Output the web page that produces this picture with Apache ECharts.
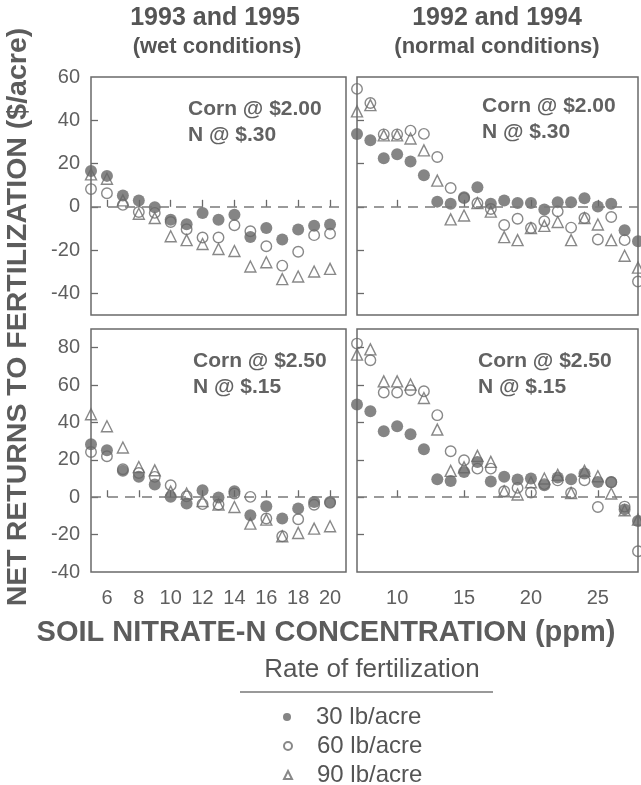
<!DOCTYPE html>
<html><head><meta charset="utf-8">
<script src="https://cdn.jsdelivr.net/npm/echarts@6/dist/echarts.min.js"></script>
<style>html,body{margin:0;padding:0;background:#fff}#c{width:641px;height:785px}</style>
</head><body><div id="c"></div>
<script>
// ---- data ----
const xWet = [5,6,7,8,9,10,11,12,13,14,15,16,17,18,19,20];
const xNormal = [7,8,9,10,11,12,13,14,15,16,17,18,19,20,21,22,23,24,25,26,27,28];

// Corn @ $2.00, N @ $.30 — wet (1993/1995)
const wetA30 = [16.6,14.3,5.2,2.9,-0.2,-6,-8.1,-2.9,-6,-3.7,-13.9,-9.8,-15.1,-10.5,-8.8,-8.2];
const wetA60 = [8.2,6.3,0.9,-2.4,-2.8,-7,-10.4,-14.2,-14.2,-8.5,-11.3,-18.2,-27.2,-20.8,-13.1,-12.4];
const wetA90 = [15,13,3,-3.2,-5.2,-13.6,-15.4,-17.2,-19.5,-20.4,-27.6,-25.6,-33.4,-32.2,-29.9,-28.7];
// Corn @ $2.00, N @ $.30 — normal (1992/1994)
const norA30 = [33.7,30.8,22.4,24.3,20.9,14.6,2.4,1.4,4.4,9,1.4,2.9,1.8,1.8,-1.2,2.1,2.1,4,0.1,1.4,-10.8,-15.9];
const norA60 = [54.5,48,33.5,33.5,35.2,33.7,23,8.7,4,1.7,-1,-8.4,-5.5,-9.8,-6.7,-2.1,-9.6,-5.2,-15.1,-4.7,-15.4,-34.5];
const norA90 = [44.1,47,33,33,31.6,26.1,12.1,-5.8,-4,1.7,-2.2,-14,-15.4,-9.8,-8.8,-7,-15.4,-5.2,-8.2,-15.4,-22.6,-28.1];
// Corn @ $2.50, N @ $.15 — wet
const wetB30 = [28.3,25.1,14.1,10.9,6.8,0.2,-3.4,3.7,-0.2,3.2,-9.6,-4.8,-11.4,-6,-2.5,-2.5];
const wetB60 = [24.2,21.9,15,13,10.9,6.4,0.5,-3.7,-3.9,2,0.2,-11.4,-20.9,-11.8,-4,-3];
const wetB90 = [44.4,38,26.6,16.2,14.4,3,2,-2,-3.9,-5.2,-14.1,-12,-20.9,-19.1,-16.8,-15.5];
// Corn @ $2.50, N @ $.15 — normal
const norB30 = [49.6,46,35.3,38,33.7,25.7,9.6,8.7,13.5,18.9,8.4,10.9,9.5,10,6.4,10.5,9.6,12.7,8.2,8.2,-6.5,-12.7];
const norB60 = [82.2,73.3,56,56,57.2,56.7,43.9,24.6,19.8,15.3,15.3,3.2,5,2.5,7,9,2.3,9.1,-5.2,8,-5,-28.9];
const norB90 = [76.3,79.1,62,62,60.3,53.1,36.2,14.1,16,22.1,18.9,3.2,1.5,8,10,12,2.3,14.1,11.2,2,-7,-12];

const wetTicks = [6,8,10,12,14,16,18,20];
const norTicks = [10,15,20,25];
const topTicks = [-40,-20,0,20,40,60];
const botTicks = [-40,-20,0,20,40,60,80];

const names = ['30 lb/acre','60 lb/acre','90 lb/acre'];
const colTitles = ['1993 and 1995','(wet conditions)','1992 and 1994','(normal conditions)'];
const panelNotes = [['Corn @ $2.00','N @ $.30'],['Corn @ $2.50','N @ $.15']];

// ---- chart ----
const GRAY = '#5f5f5f';
const FONT = '"Liberation Sans", Arial, Helvetica, sans-serif';
const pair = (xs, ys) => xs.map((x,i)=>[x, ys[i]]);

const grids = [
  {left:91, top:77, width:255, height:238},
  {left:357, top:77, width:281, height:238},
  {left:91, top:329, width:255, height:243},
  {left:357, top:329, width:281, height:243}
].map(g => Object.assign({show:true, borderColor:'#6a6a6a', borderWidth:1.5, backgroundColor:'transparent'}, g));

function xAx(gi, wet, showLabels){
  const ticks = wet ? wetTicks : norTicks;
  return {
    type:'value', gridIndex:gi, min: wet?5:7, max: wet?21:28,
    axisLine:{show:false}, splitLine:{show:false},
    axisTick:{show:true, inside:true, length:7, lineStyle:{color:'#6a6a6a', width:1.3}, customValues:ticks},
    axisLabel:{show:showLabels, customValues:ticks, color:GRAY, fontSize:20, fontFamily:FONT, margin:16}
  };
}
function yAx(gi, top, showLabels){
  const labs = top ? topTicks : botTicks;
  const ticks = top ? topTicks.filter(v=>v!==60) : botTicks.filter(v=>v!==-40);
  return {
    type:'value', gridIndex:gi, min: top?-50:-40, max: top?60:90,
    axisLine:{show:false}, splitLine:{show:false},
    axisTick:{show:true, inside:true, length:7, lineStyle:{color:'#6a6a6a', width:1.3}, customValues:ticks},
    axisLabel:{show:showLabels, customValues:labs, color:GRAY, fontSize:20, fontFamily:FONT, margin:11}
  };
}

const styles = [
  {symbol:'circle', symbolSize:12, itemStyle:{color:'#676767'}},
  {symbol:'circle', symbolSize:10.5, itemStyle:{color:'rgba(255,255,255,0)', borderColor:'#6a6a6a', borderWidth:1.4}},
  {symbol:'triangle', symbolSize:11, itemStyle:{color:'rgba(255,255,255,0)', borderColor:'#6a6a6a', borderWidth:1.4}}
];

const panels = [
  {xs:xWet, s:[wetA30,wetA60,wetA90]},
  {xs:xNormal, s:[norA30,norA60,norA90]},
  {xs:xWet, s:[wetB30,wetB60,wetB90]},
  {xs:xNormal, s:[norB30,norB60,norB90]}
];

const series = [];
panels.forEach((p, gi) => {
  [2,1,0].forEach(k => {
    const s = Object.assign({
      type:'scatter', name:names[k], xAxisIndex:gi, yAxisIndex:gi,
      data: pair(p.xs, p.s[k]), silent:true, emphasis:{disabled:true}
    }, styles[k]);
    if (k === 2) {
      s.markLine = {silent:true, symbol:['none','none'], label:{show:false},
        lineStyle:{type:[10,7], color:'#7a7a7a', width:1.5}, data:[{yAxis:0}]};
    }
    series.push(s);
  });
});

const noteGfx = [
  {x:188, y:109, t:panelNotes[0][0]}, {x:188, y:135, t:panelNotes[0][1]},
  {x:482, y:106, t:panelNotes[0][0]}, {x:482, y:132, t:panelNotes[0][1]},
  {x:193, y:361, t:panelNotes[1][0]}, {x:193, y:387, t:panelNotes[1][1]},
  {x:478, y:361, t:panelNotes[1][0]}, {x:478, y:387, t:panelNotes[1][1]}
].map(n => ({type:'text', x:n.x, y:n.y, silent:true,
  style:{text:n.t, fill:'#626262', font:'bold 21px ' + FONT, verticalAlign:'middle'}}));

const textGfx = [
  {type:'text', x:215, y:18, style:{text:colTitles[0], fill:'#555', font:'bold 25px '+FONT, align:'center', verticalAlign:'middle'}},
  {type:'text', x:217, y:47, style:{text:colTitles[1], fill:'#555', font:'bold 22px '+FONT, align:'center', verticalAlign:'middle'}},
  {type:'text', x:497, y:18, style:{text:colTitles[2], fill:'#555', font:'bold 25px '+FONT, align:'center', verticalAlign:'middle'}},
  {type:'text', x:497, y:47, style:{text:colTitles[3], fill:'#555', font:'bold 22px '+FONT, align:'center', verticalAlign:'middle'}},
  {type:'text', x:18, y:317, rotation:Math.PI/2, style:{text:'NET RETURNS TO FERTILIZATION ($/acre)', fill:'#5c5c5c', font:'bold 28.5px '+FONT, align:'center', verticalAlign:'middle'}},
  {type:'text', x:326, y:633, style:{text:'SOIL NITRATE-N CONCENTRATION (ppm)', fill:'#5c5c5c', font:'bold 29px '+FONT, align:'center', verticalAlign:'middle'}},
  {type:'text', x:372, y:670, style:{text:'Rate of fertilization', fill:'#555', font:'26px '+FONT, align:'center', verticalAlign:'middle'}},
  {type:'line', shape:{x1:240, y1:692, x2:493, y2:692}, style:{stroke:'#777', lineWidth:1.5}}
];

const legends = names.map((n, i) => ({
  data:[n], orient:'vertical', left:283, top:705 + i*29, padding:0,
  itemWidth:8, itemHeight:8, selectedMode:false,
  textStyle:{color:'#555', fontSize:24, fontFamily:FONT, padding:[0,0,0,20]}
}));

const chart = echarts.init(document.getElementById('c'), null, {renderer:'canvas'});
chart.setOption({
  animation:false,
  backgroundColor:'#fff',
  grid:grids,
  xAxis:[xAx(0,true,false), xAx(1,false,false), xAx(2,true,true), xAx(3,false,true)],
  yAxis:[yAx(0,true,true), yAx(1,true,false), yAx(2,false,true), yAx(3,false,false)],
  legend:legends,
  series:series,
  graphic:noteGfx.concat(textGfx)
});
</script></body></html>
